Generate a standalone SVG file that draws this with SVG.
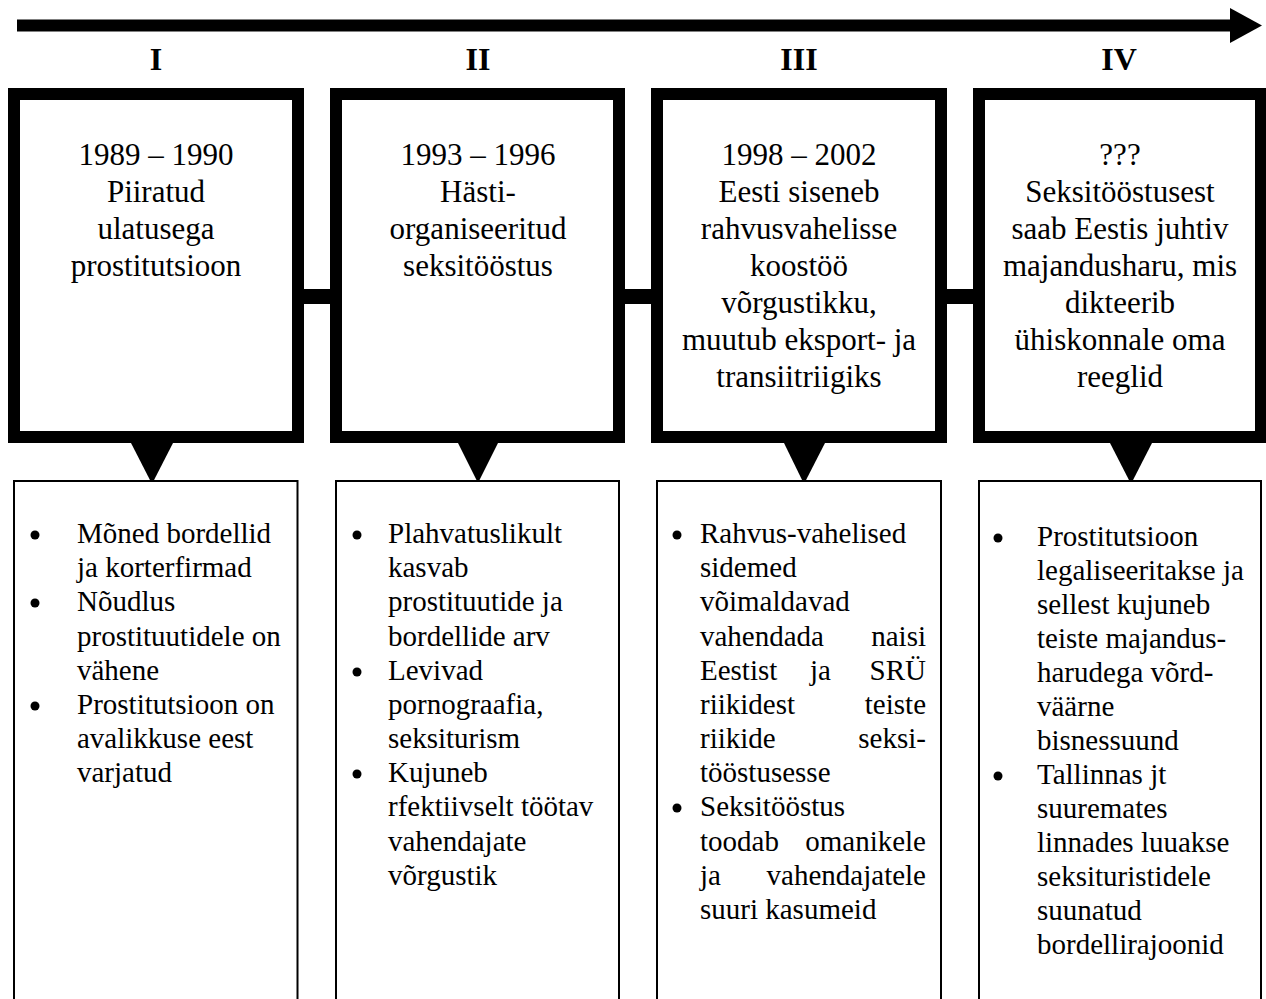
<svg xmlns="http://www.w3.org/2000/svg" width="1266" height="999" viewBox="0 0 1266 999">
<style>
.stage{fill:#fff;stroke:#000;stroke-width:12}
.detail{fill:#fff;stroke:#000;stroke-width:2}
.head{font-family:"Liberation Serif","Times New Roman",serif;font-size:32px;font-weight:bold;text-anchor:middle;fill:#000}
.tt{font-family:"Liberation Serif","Times New Roman",serif;font-size:31px;text-anchor:middle;fill:#000}
.bt{font-family:"Liberation Serif","Times New Roman",serif;font-size:29px;fill:#000}
.r{text-anchor:end}
.bul{fill:#000}
.con{fill:#000}
</style>
<rect width="1266" height="999" fill="#fff"/>
<g id="timeline">
<rect x="17" y="19.5" width="1214" height="12" fill="#000"/>
<polygon points="1230,8 1262,25.5 1230,43" fill="#000"/>
</g>
<g id="connectors">
<rect class="con" x="298" y="289" width="38" height="15"/>
<rect class="con" x="619" y="289" width="38" height="15"/>
<rect class="con" x="941" y="289" width="38" height="15"/>
<polygon class="con" points="131,443 173,443 152,484"/>
<polygon class="con" points="458,443 498,443 478,483"/>
<polygon class="con" points="784,443 825,443 804,484"/>
<polygon class="con" points="1110,443 1152,443 1131,484"/>
</g>
<g id="stage1">
<text class="head" x="156" y="70">I</text>
<rect class="stage" x="14" y="94" width="284" height="343"/>
<text class="tt" x="156" y="165">1989 – 1990</text>
<text class="tt" x="156" y="202">Piiratud</text>
<text class="tt" x="156" y="239">ulatusega</text>
<text class="tt" x="156" y="276">prostitutsioon</text>
</g>
<g id="stage2">
<text class="head" x="478" y="70">II</text>
<rect class="stage" x="336" y="94" width="283" height="343"/>
<text class="tt" x="478" y="165">1993 – 1996</text>
<text class="tt" x="478" y="202">Hästi-</text>
<text class="tt" x="478" y="239">organiseeritud</text>
<text class="tt" x="478" y="276">seksitööstus</text>
</g>
<g id="stage3">
<text class="head" x="799" y="70">III</text>
<rect class="stage" x="657" y="94" width="284" height="343"/>
<text class="tt" x="799" y="165">1998 – 2002</text>
<text class="tt" x="799" y="202">Eesti siseneb</text>
<text class="tt" x="799" y="239">rahvusvahelisse</text>
<text class="tt" x="799" y="276">koostöö</text>
<text class="tt" x="799" y="313">võrgustikku,</text>
<text class="tt" x="799" y="350">muutub eksport- ja</text>
<text class="tt" x="799" y="387">transiitriigiks</text>
</g>
<g id="stage4">
<text class="head" x="1119" y="70">IV</text>
<rect class="stage" x="979" y="94" width="282" height="343"/>
<text class="tt" x="1120" y="165">???</text>
<text class="tt" x="1120" y="202">Seksitööstusest</text>
<text class="tt" x="1120" y="239">saab Eestis juhtiv</text>
<text class="tt" x="1120" y="276">majandusharu, mis</text>
<text class="tt" x="1120" y="313">dikteerib</text>
<text class="tt" x="1120" y="350">ühiskonnale oma</text>
<text class="tt" x="1120" y="387">reeglid</text>
</g>
<g id="details1">
<rect class="detail" x="14" y="481" width="283.5" height="530"/>
<circle class="bul" cx="35" cy="535" r="4.5"/>
<circle class="bul" cx="35" cy="603" r="4.5"/>
<circle class="bul" cx="35" cy="706" r="4.5"/>
<text class="bt" x="77" y="543">Mõned bordellid</text>
<text class="bt" x="77" y="577">ja korterfirmad</text>
<text class="bt" x="77" y="611">Nõudlus</text>
<text class="bt" x="77" y="646">prostituutidele on</text>
<text class="bt" x="77" y="680">vähene</text>
<text class="bt" x="77" y="714">Prostitutsioon on</text>
<text class="bt" x="77" y="748">avalikkuse eest</text>
<text class="bt" x="77" y="782">varjatud</text>
</g>
<g id="details2">
<rect class="detail" x="336" y="481" width="283" height="530"/>
<circle class="bul" cx="357" cy="535" r="4.5"/>
<circle class="bul" cx="357" cy="672" r="4.5"/>
<circle class="bul" cx="357" cy="774" r="4.5"/>
<text class="bt" x="388" y="543">Plahvatuslikult</text>
<text class="bt" x="388" y="577">kasvab</text>
<text class="bt" x="388" y="611">prostituutide ja</text>
<text class="bt" x="388" y="646">bordellide arv</text>
<text class="bt" x="388" y="680">Levivad</text>
<text class="bt" x="388" y="714">pornograafia,</text>
<text class="bt" x="388" y="748">seksiturism</text>
<text class="bt" x="388" y="782">Kujuneb</text>
<text class="bt" x="388" y="816">rfektiivselt töötav</text>
<text class="bt" x="388" y="851">vahendajate</text>
<text class="bt" x="388" y="885">võrgustik</text>
</g>
<g id="details3">
<rect class="detail" x="657" y="481" width="284" height="530"/>
<circle class="bul" cx="677" cy="535" r="4.5"/>
<circle class="bul" cx="677" cy="808" r="4.5"/>
<text class="bt" x="700" y="543">Rahvus-vahelised</text>
<text class="bt" x="700" y="577">sidemed</text>
<text class="bt" x="700" y="611">võimaldavad</text>
<text class="bt" x="700" y="646">vahendada</text>
<text class="bt r" x="926" y="646">naisi</text>
<text class="bt" x="700" y="680">Eestist</text>
<text class="bt" x="810" y="680">ja</text>
<text class="bt r" x="926" y="680">SRÜ</text>
<text class="bt" x="700" y="714">riikidest</text>
<text class="bt r" x="926" y="714">teiste</text>
<text class="bt" x="700" y="748">riikide</text>
<text class="bt r" x="926" y="748">seksi-</text>
<text class="bt" x="700" y="782">tööstusesse</text>
<text class="bt" x="700" y="816">Seksitööstus</text>
<text class="bt" x="700" y="851">toodab</text>
<text class="bt r" x="926" y="851">omanikele</text>
<text class="bt" x="700" y="885">ja</text>
<text class="bt r" x="926" y="885">vahendajatele</text>
<text class="bt" x="700" y="919">suuri kasumeid</text>
</g>
<g id="details4">
<rect class="detail" x="979" y="481" width="282" height="530"/>
<circle class="bul" cx="998" cy="538" r="4.5"/>
<circle class="bul" cx="998" cy="776" r="4.5"/>
<text class="bt" x="1037" y="546">Prostitutsioon</text>
<text class="bt" x="1037" y="580">legaliseeritakse ja</text>
<text class="bt" x="1037" y="614">sellest kujuneb</text>
<text class="bt" x="1037" y="648">teiste majandus-</text>
<text class="bt" x="1037" y="682">harudega võrd-</text>
<text class="bt" x="1037" y="716">väärne</text>
<text class="bt" x="1037" y="750">bisnessuund</text>
<text class="bt" x="1037" y="784">Tallinnas jt</text>
<text class="bt" x="1037" y="818">suuremates</text>
<text class="bt" x="1037" y="852">linnades luuakse</text>
<text class="bt" x="1037" y="886">seksituristidele</text>
<text class="bt" x="1037" y="920">suunatud</text>
<text class="bt" x="1037" y="954">bordellirajoonid</text>
</g>
</svg>
